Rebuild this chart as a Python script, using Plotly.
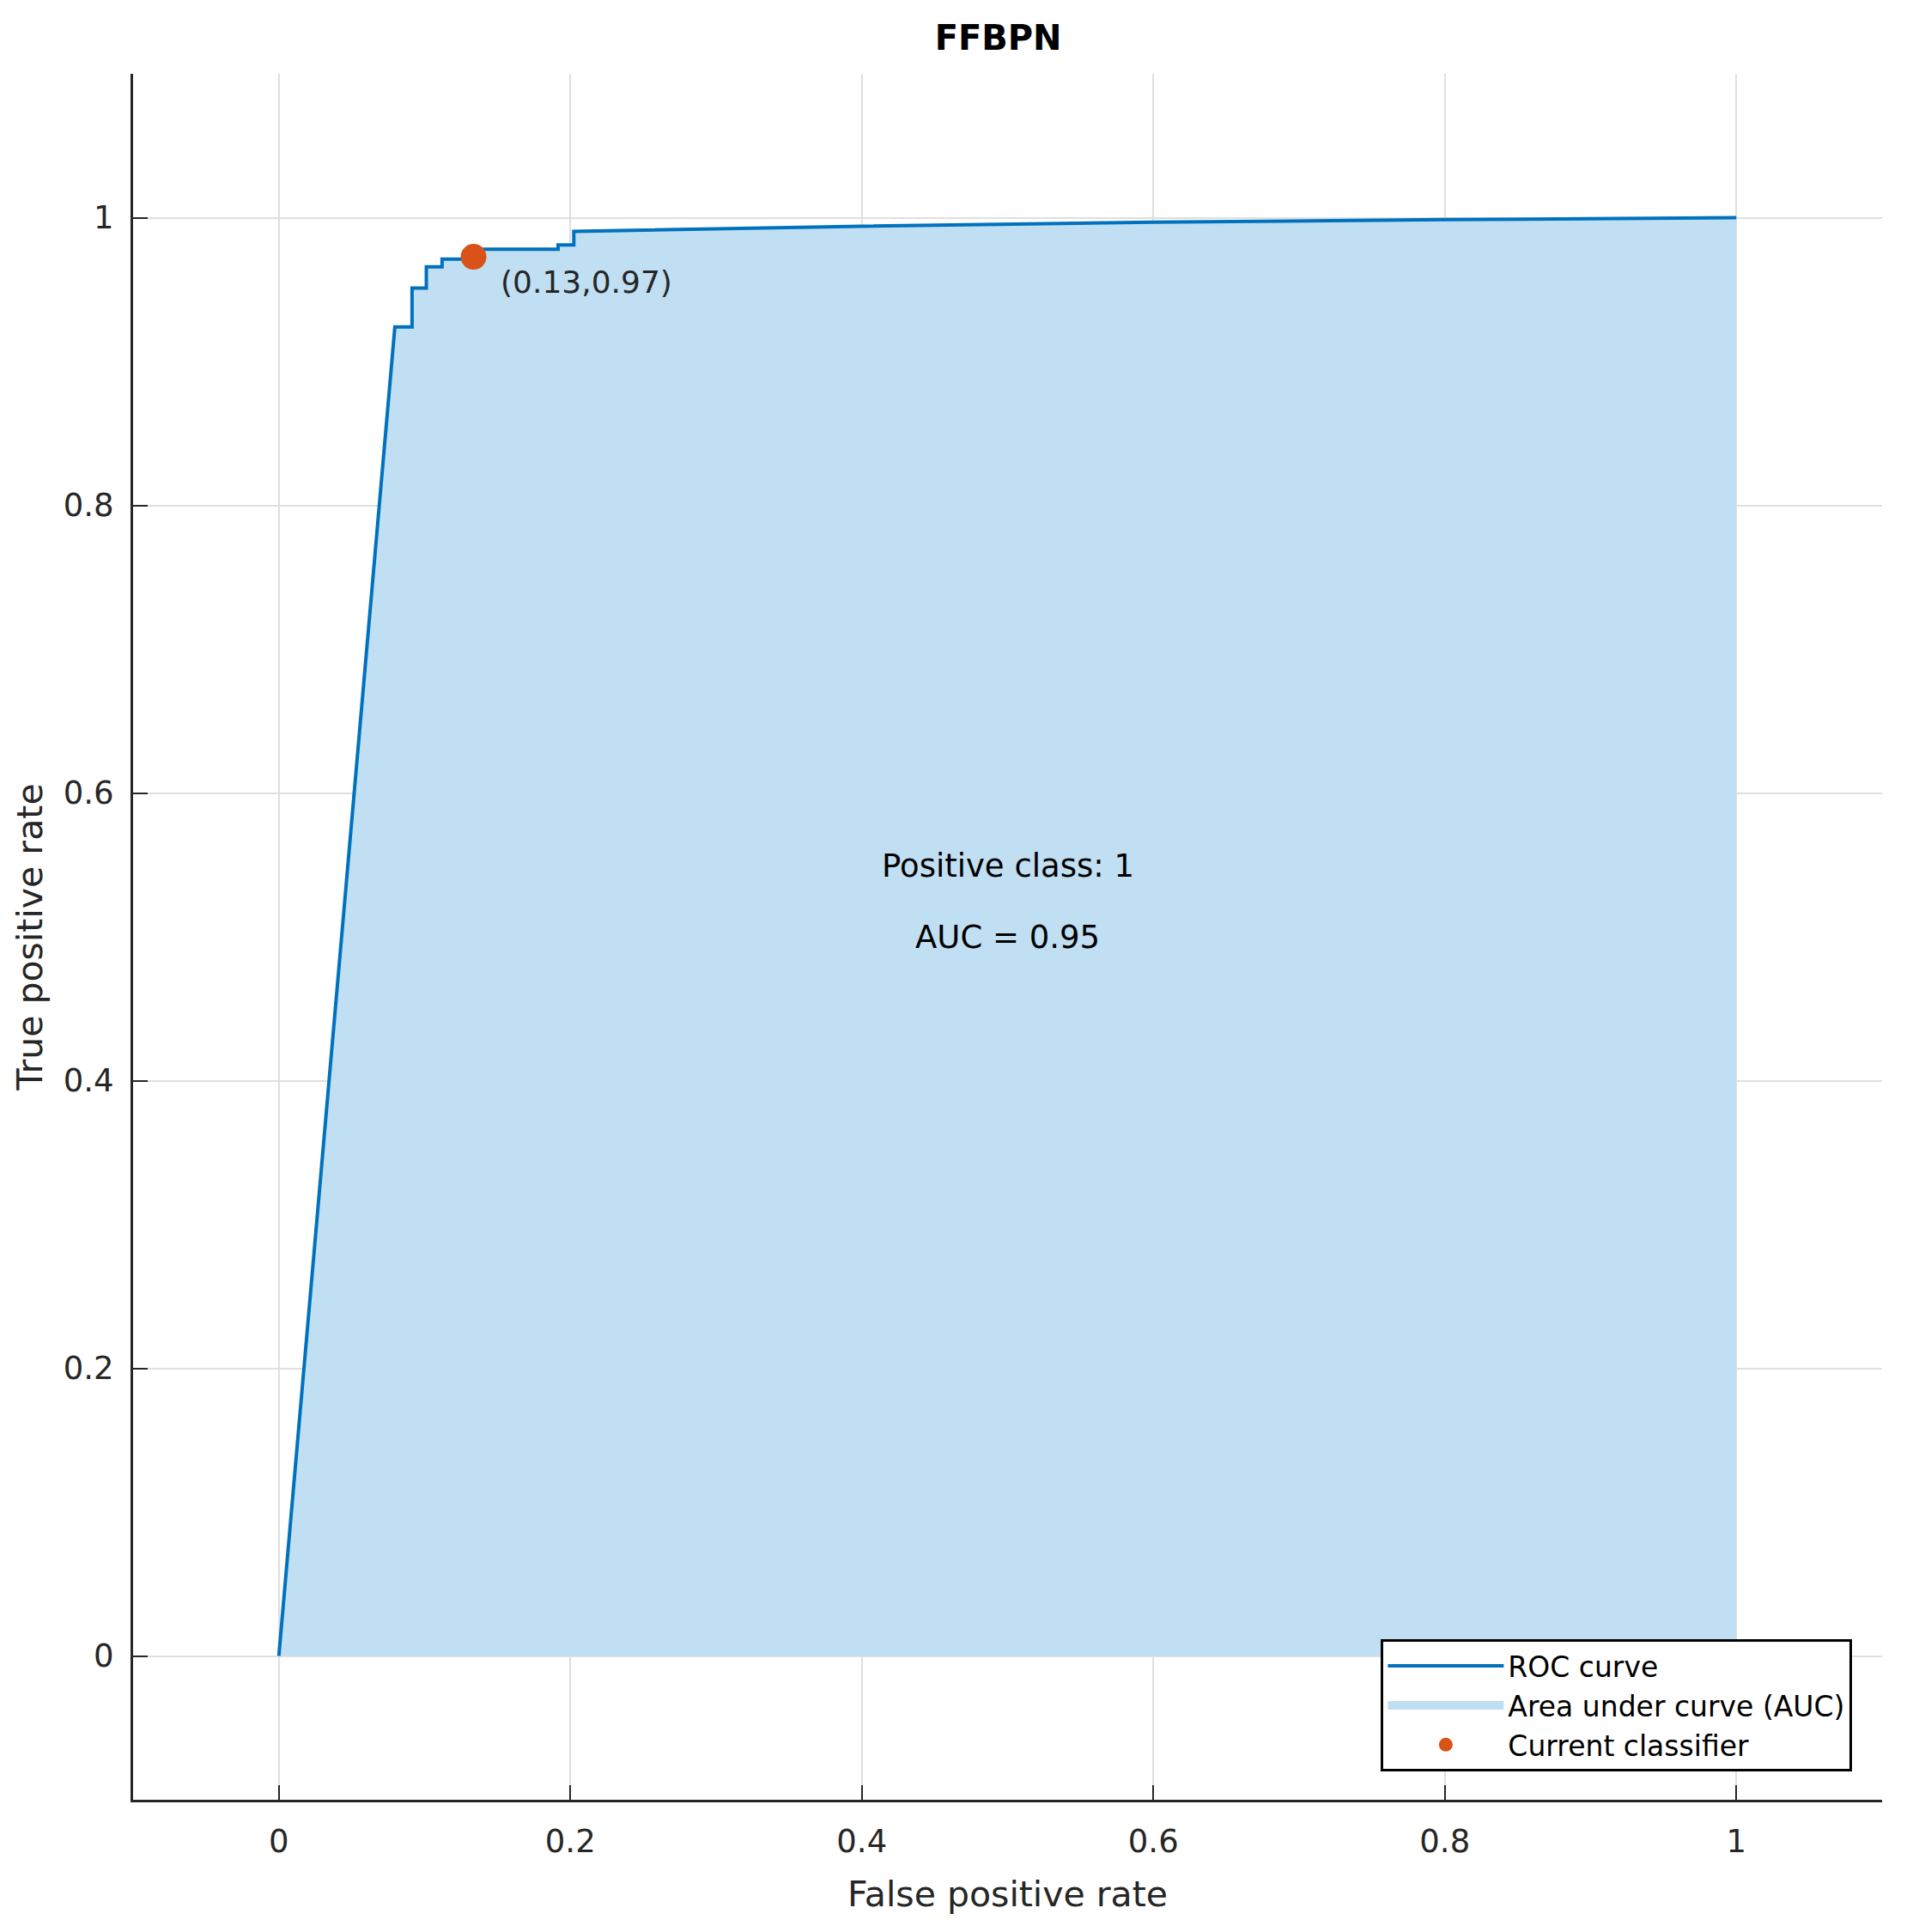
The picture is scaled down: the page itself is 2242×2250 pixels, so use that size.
import plotly.graph_objects as go

# ROC curve points
fpr = [0.0, 0.0796, 0.0796, 0.0914, 0.0914, 0.1012, 0.1012, 0.112, 0.112, 0.1336, 0.1336,
       0.1916, 0.1916, 0.2024, 0.2024, 0.4, 0.6, 0.8, 1.0]
tpr = [0.0, 0.924, 0.924, 0.924, 0.951, 0.951, 0.9658, 0.9658, 0.9712, 0.9712, 0.978,
       0.978, 0.9811, 0.9811, 0.9905, 0.9941, 0.9968, 0.9986, 1.0]

# Current classifier operating point
op_fpr = [0.1336]
op_tpr = [0.9728]
op_label = "(0.13,0.97)"

title_text = "FFBPN"
x_label = "False positive rate"
y_label = "True positive rate"
pos_class_text = "Positive class: 1"
auc_text = "AUC = 0.95"
tick_vals = [0, 0.2, 0.4, 0.6, 0.8, 1]
tick_text = ["0", "0.2", "0.4", "0.6", "0.8", "1"]

FONT = "DejaVu Sans"
AX = "#262626"
BLUE = "#0072BD"
FILL = "rgb(192,223,242)"
ORANGE = "#D95319"

fig = go.Figure()

# area under curve (drawn from the ROC data)
fig.add_trace(go.Scatter(
    x=fpr, y=tpr, mode="lines", fill="tozeroy", fillcolor=FILL,
    line=dict(width=0, color=FILL), name="Area under curve (AUC)",
    showlegend=False, hoverinfo="skip"))
fig.add_trace(go.Scatter(
    x=fpr, y=tpr, mode="lines", line=dict(color=BLUE, width=4),
    name="ROC curve", legendrank=1))
# legend entry for the filled area (patch look)
fig.add_trace(go.Scatter(
    x=[None], y=[None], mode="lines",
    line=dict(color=FILL, width=22),
    name="Area under curve (AUC)", legendrank=2))
fig.add_trace(go.Scatter(
    x=op_fpr, y=op_tpr, mode="markers",
    marker=dict(color=ORANGE, size=30, line=dict(width=0)),
    name="Current classifier", legendrank=3))

fig.add_annotation(x=0.151, y=0.955, xref="x", yref="y", text=op_label,
                   showarrow=False, xanchor="left", yanchor="middle",
                   font=dict(family=FONT, size=36, color=AX))
fig.add_annotation(x=0.5, y=0.549, xref="x", yref="y", text=pos_class_text,
                   showarrow=False, xanchor="center", yanchor="middle",
                   font=dict(family=FONT, size=37, color="#000000"))
fig.add_annotation(x=0.5, y=0.5, xref="x", yref="y", text=auc_text,
                   showarrow=False, xanchor="center", yanchor="middle",
                   font=dict(family=FONT, size=37, color="#000000"))

axis_common = dict(
    range=[-0.1, 1.1], tickmode="array", tickvals=tick_vals, ticktext=tick_text,
    showgrid=True, gridcolor="#DFDFDF", gridwidth=2, zeroline=False,
    showline=True, linecolor=AX, linewidth=3, mirror=False,
    ticks="inside", ticklen=17, tickwidth=2, tickcolor=AX,
    tickfont=dict(family=FONT, size=37, color=AX), automargin=False,
)

fig.update_xaxes(**axis_common, ticklabelstandoff=14,
                 title=dict(text=x_label, font=dict(family=FONT, size=41, color=AX), standoff=26))
fig.update_yaxes(**axis_common, ticklabelstandoff=12,
                 title=dict(text=y_label, font=dict(family=FONT, size=41, color=AX), standoff=12))

fig.update_layout(
    width=2242, height=2250,
    margin=dict(l=147, r=58, t=78, b=162),
    paper_bgcolor="white", plot_bgcolor="white",
    title=dict(text="<b>" + title_text + "</b>", x=0.515, xanchor="center",
               y=1 - 36 / 2250, yanchor="middle", yref="container",
               font=dict(family=FONT, size=40, color="#000000")),
    legend=dict(x=0.983, y=0.0164, xanchor="right", yanchor="bottom",
                bgcolor="white", bordercolor="#000000", borderwidth=3,
                font=dict(family=FONT, size=33, color="#000000"),
                itemwidth=135, tracegroupgap=0),
    showlegend=True,
)

fig.write_html("out.html")
